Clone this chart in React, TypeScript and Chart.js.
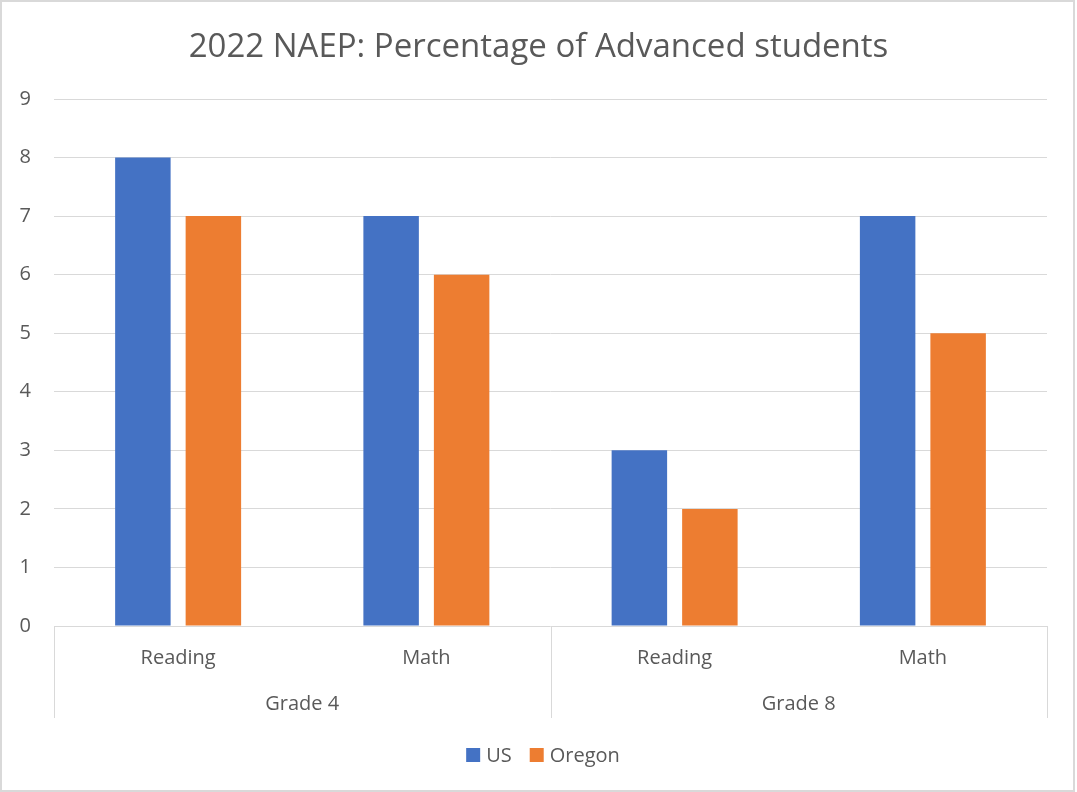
import React, { useEffect, useRef } from 'react';
import { Chart, registerables } from 'chart.js';

Chart.register(...registerables);

const chartTitle = '2022 NAEP: Percentage of Advanced students';
const categories = ['Reading', 'Math', 'Reading', 'Math'];
const groupLabels = ['Grade 4', 'Grade 8'];
const groupSizes = [2, 2];
const seriesNames = ['US', 'Oregon'];
const usValues = [8, 7, 3, 7];
const oregonValues = [7, 6, 2, 5];
const seriesColors = ['#4472C4', '#ED7D31'];
const yMin = 0;
const yMax = 9;
const yStep = 1;

const FONT = '"Open Sans", "Noto Sans", sans-serif';
const TEXT = '#595959';
const LINE = '#D9D9D9';

const decor = {
  id: 'decor',
  beforeDraw(chart: any) {
    const ctx = chart.ctx;
    ctx.save();
    ctx.fillStyle = '#FFFFFF';
    ctx.fillRect(0, 0, chart.width, chart.height);
    ctx.restore();
  },
  afterDraw(chart: any) {
    const ctx = chart.ctx;
    const xs = chart.scales.x;
    const area = chart.chartArea;
    ctx.save();
    // outer border
    ctx.strokeStyle = LINE;
    ctx.lineWidth = 2;
    ctx.strokeRect(1, 1, 1073, 790);

    // title
    ctx.fillStyle = TEXT;
    ctx.font = `33px ${FONT}`;
    ctx.textAlign = 'center';
    ctx.textBaseline = 'alphabetic';
    ctx.fillText(chartTitle, 538.5, 57);

    // multi-level axis dividers and group labels
    const n = categories.length;
    const catW = xs.width / n;
    const bottom = area.bottom + 92;
    ctx.strokeStyle = LINE;
    ctx.lineWidth = 1;
    let idx = 0;
    const edges: number[] = [0];
    groupSizes.forEach((s) => { idx += s; edges.push(idx); });
    edges.forEach((e) => {
      const px = Math.round(xs.left + catW * e) + 0.5;
      ctx.beginPath();
      ctx.moveTo(px, area.bottom);
      ctx.lineTo(px, bottom);
      ctx.stroke();
    });
    ctx.font = `20px ${FONT}`;
    ctx.fillStyle = TEXT;
    groupLabels.forEach((g, i) => {
      const cx = xs.left + catW * (edges[i] + edges[i + 1]) / 2;
      ctx.fillText(g, cx, area.bottom + 84);
    });

    // legend
    ctx.font = `20px ${FONT}`;
    const box = 14, gapText = 6, gapItem = 18;
    const widths = seriesNames.map((s) => ctx.measureText(s).width);
    let total = 0;
    widths.forEach((w, i) => { total += box + gapText + w + (i < widths.length - 1 ? gapItem : 0); });
    let x = 543 - total / 2;
    ctx.textAlign = 'left';
    seriesNames.forEach((s, i) => {
      ctx.fillStyle = seriesColors[i];
      ctx.fillRect(x, 748, box, box);
      ctx.fillStyle = TEXT;
      ctx.fillText(s, x + box + gapText, 762);
      x += box + gapText + widths[i] + gapItem;
    });
    ctx.restore();
  },
};

export default function App() {
  const ref = useRef<HTMLCanvasElement | null>(null);
  useEffect(() => {
    if (!ref.current) return;
    const chart = new Chart(ref.current, {
      type: 'bar',
      data: {
        labels: categories,
        datasets: [
          { label: seriesNames[0], data: usValues, backgroundColor: seriesColors[0], borderWidth: 0 },
          { label: seriesNames[1], data: oregonValues, backgroundColor: seriesColors[1], borderWidth: 0 },
        ],
      },
      options: {
        responsive: false,
        animation: false,
        devicePixelRatio: 1,
        layout: { padding: { top: 99, right: 30, bottom: 74, left: 0 } },
        datasets: { bar: { categoryPercentage: 0.568, barPercentage: 0.787 } },
        plugins: {
          legend: { display: false },
          title: { display: false },
          tooltip: { enabled: false },
        },
        scales: {
          x: {
            grid: { display: false, drawTicks: false },
            border: { display: false },
            ticks: { color: TEXT, font: { family: FONT, size: 20 }, padding: 20, maxRotation: 0, autoSkip: false },
            afterFit: (s: any) => { s.height = 92; },
          },
          y: {
            min: yMin,
            max: yMax,
            grid: { color: LINE, drawTicks: false },
            border: { display: false },
            ticks: { stepSize: yStep, color: TEXT, font: { family: FONT, size: 20 }, padding: 23 },
            afterFit: (s: any) => { s.width = 54; },
          },
        },
      },
      plugins: [decor],
    });
    return () => chart.destroy();
  }, []);
  return (
    <div style={{ position: 'absolute', left: 0, top: 0, width: 1077, height: 792, background: '#fff' }}>
      <canvas ref={ref} width={1077} height={792} style={{ display: 'block', width: 1077, height: 792 }} />
    </div>
  );
}
